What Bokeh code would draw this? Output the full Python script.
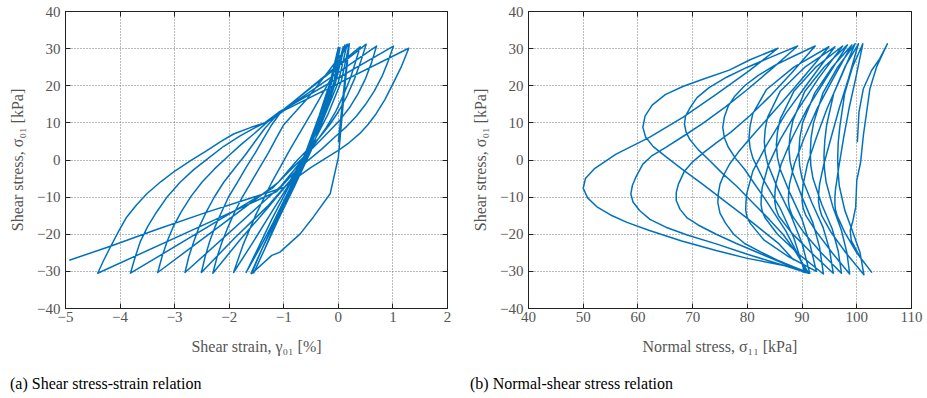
from bokeh.plotting import figure
from bokeh.models import Range1d, FixedTicker, CustomJSTickFormatter, LinearAxis, Div
from bokeh.layouts import row, column
from bokeh.embed import file_html
from bokeh.resources import INLINE

# ---------------- data (one time-ordered path per panel) ----------------
# (a) (shear strain [%], shear stress [kPa])
path_a = [
    (0.0, 4.8), (0.05, 12.0), (0.12, 22.0),
    (0.20, 31.3), (0.10, 17.0), (0.0, 0.7), (-0.15, -9.1), (-0.46, -15.4), (-0.70, -19.9), (-1.07, -24.8), (-1.22, -25.7),
    (-1.59, -30.6), (-1.40, -24), (-1.15, -16), (-0.85, -7), (-0.55, 2), (-0.30, 12), (-0.12, 21),
    (0.00, 30.3), (-0.15, 21), (-0.35, 12), (-0.60, 2), (-0.88, -8), (-1.15, -17), (-1.35, -24),
    (-1.55, -30.4), (-1.35, -24), (-1.10, -16), (-0.80, -7), (-0.50, 2.5), (-0.25, 12.5), (-0.08, 21),
    (0.03, 30.3), (-0.13, 21), (-0.33, 12), (-0.60, 2), (-0.90, -8), (-1.18, -17), (-1.40, -24),
    (-1.60, -30.5), (-1.40, -24), (-1.14, -16), (-0.84, -7.5), (-0.52, 2), (-0.25, 12), (-0.05, 21),
    (0.09, 30.5), (-0.08, 21), (-0.30, 12), (-0.58, 2), (-0.90, -8), (-1.20, -17), (-1.45, -24),
    (-1.69, -30.3), (-1.48, -24), (-1.22, -16), (-0.92, -7.5), (-0.58, 2), (-0.28, 12), (-0.05, 21),
    (0.12, 31.0), (-0.05, 21), (-0.28, 12), (-0.56, 3), (-0.88, -6), (-1.22, -14), (-1.58, -22.5),
    (-1.92, -30.3), (-1.75, -23), (-1.52, -15), (-1.22, -6), (-0.88, 3), (-0.50, 12.5), (-0.15, 21.5),
    (0.16, 31.2), (0.0, 21), (-0.25, 12), (-0.55, 3), (-0.88, -5.5), (-1.30, -13), (-1.80, -21.5),
    (-2.30, -30.5), (-2.22, -26), (-2.13, -22), (-2.02, -18), (-1.90, -14), (-1.76, -10), (-1.60, -6),
    (-1.44, -2), (-1.28, 2), (-1.14, 5.8), (-1.0, 9.5), (-0.6, 16), (-0.2, 23.5),
    (0.20, 31.3), (0.05, 21), (-0.20, 12), (-0.50, 3.5), (-0.85, -5), (-1.30, -12.5), (-1.90, -21),
    (-2.51, -30.3), (-2.44, -26), (-2.36, -22), (-2.26, -18), (-2.14, -14), (-2.01, -9.9), (-1.85, -6),
    (-1.69, -2), (-1.52, 2), (-1.37, 5.8), (-1.22, 9.5), (-1.05, 13),
    (0.40, 30.5), (0.31, 26.2), (0.22, 22), (0.09, 17.4), (-0.05, 13), (-0.22, 8.8), (-0.40, 5), (-0.80, -2.5), (-1.05, -7),
    (-2.81, -30.3), (-2.74, -26), (-2.65, -22), (-2.55, -18), (-2.42, -14), (-2.27, -9.9), (-2.10, -6),
    (-1.90, -2.2), (-1.70, 1.5), (-1.52, 5.1), (-1.35, 8.5), (-1.10, 12.5),
    (0.51, 31.2), (0.41, 26.5), (0.30, 22), (0.16, 17.3), (0.0, 13), (-0.17, 9.3), (-0.35, 6), (-0.75, 0), (-1.10, -6),
    (-3.31, -30.3), (-3.23, -26), (-3.14, -22), (-3.02, -17.8), (-2.88, -14), (-2.70, -9.8), (-2.50, -6),
    (-2.27, -2.4), (-2.02, 1), (-1.78, 4.2), (-1.55, 7), (-1.35, 9.6), (-1.15, 12),
    (0.70, 30.7), (0.61, 26.3), (0.50, 22), (0.36, 17.8), (0.20, 14), (0.03, 10.8), (-0.15, 8), (-0.35, 5),
    (-0.55, 2), (-0.90, -3), (-1.20, -7.5),
    (-3.81, -30.5), (-3.72, -26), (-3.63, -22), (-3.49, -17.8), (-3.33, -14), (-3.13, -9.8), (-2.90, -6),
    (-2.65, -2.6), (-2.38, 0.5), (-2.10, 3.7), (-1.80, 6.5), (-1.55, 8.5), (-1.35, 10), (-1.10, 12.8),
    (1.01, 30.7), (0.91, 26.5), (0.80, 22.5), (0.66, 18.6), (0.50, 15), (0.33, 11.8), (0.15, 9), (-0.08, 6),
    (-0.30, 3), (-0.52, 0.3), (-0.75, -2.5), (-1.13, -8.5),
    (-4.41, -30.5), (-4.30, -27), (-4.18, -23.5), (-4.03, -19.3), (-3.88, -15.4), (-3.70, -12.1), (-3.51, -9.1),
    (-3.25, -5.8), (-2.99, -2.9), (-2.70, -0.1), (-2.41, 2.5), (-2.15, 5), (-1.92, 7.0), (-1.60, 8.8),
    (-1.31, 10.2), (-1.15, 11.6), (-1.00, 13.3),
    (1.29, 30.1), (1.15, 25), (1.0, 20.5), (0.85, 16.2), (0.69, 12.4), (0.54, 9.5), (0.39, 7.1), (0.20, 4.7),
    (0.0, 2.6), (-0.25, 0.3), (-0.50, -2), (-0.75, -4.6), (-1.0, -7.4), (-2.42, -14.1), (-3.33, -18.7), (-4.19, -23.3),
    (-4.93, -27.0),
]

# (b) (normal stress [kPa], shear stress [kPa])
path_b = [
    (100.1, 4.8), (100.4, 12.9), (101.2, 19.2), (102.7, 24.1), (104.2, 27.3),
    (105.6, 31.3), (103.6, 25), (102.4, 19.2), (101.8, 12.9), (101.2, 6.6), (100.7, -0.6), (100.0, -5.5),
    (99.8, -12.7), (99.3, -16.3), (98.8, -19), (99.0, -21.7), (100.6, -26.2),
    (102.7, -30.2), (100, -25), (97.8, -19.5), (96.4, -15), (96.1, -13.3), (96, -12), (96, -10), (96.1, -8),
    (96.7, -2), (97.6, 6), (98.6, 14), (99.8, 22),
    (101.1, 31.3), (99.2, 25), (97.8, 18), (96.9, 9), (96.6, 4.5), (96.5, 0), (96.6, -3.5), (96.8, -7),
    (97.8, -13.5), (99.3, -19.5), (100.6, -25),
    (101.3, -30.9), (98, -25), (95.3, -19.5), (93.6, -15), (93.2, -13), (93, -11), (93.05, -8.8), (93.2, -6.5),
    (94, -1), (95.3, 6), (96.8, 14), (98.5, 22),
    (100.3, 31.3), (97.8, 25), (95.8, 18), (94.5, 9.5), (94.15, 5.2), (94, 1), (94.1, -2.5), (94.4, -6),
    (95.6, -12.5), (97.2, -19), (98.2, -25),
    (98.7, -30.7), (95.5, -25), (92.7, -19.5), (90.7, -15), (90.2, -13), (90, -11), (90.05, -8.8), (90.2, -6.5),
    (91, -1), (92.6, 6), (94.6, 14), (97, 22),
    (99.7, 31.3), (96.5, 25), (93.8, 18), (92.1, 10), (91.65, 6), (91.5, 2), (91.6, -1.5), (92, -5),
    (93.6, -12), (95.5, -18.5), (96.6, -24.5),
    (97.2, -30.5), (93.5, -25), (90.3, -19.5), (88.2, -15), (87.7, -13), (87.5, -11), (87.55, -8.8), (87.7, -6.5),
    (88.6, -1), (90.4, 6), (92.8, 14), (95.7, 22),
    (99.1, 31.0), (95.5, 25), (92.3, 18), (90.1, 10), (89.6, 6), (89.4, 2), (89.55, -1.5), (90, -5),
    (91.8, -11.5), (93.8, -18), (95, -24),
    (95.7, -30.5), (91.7, -25), (88, -19.5), (85.7, -15), (85.2, -13), (85, -11), (85.05, -8.8), (85.2, -6.5),
    (86.2, -1), (88.2, 6), (91, 14), (94.4, 22),
    (98.3, 31.0), (94, 25), (90.5, 18.5), (88.3, 10.5), (87.8, 6.7), (87.6, 3), (87.8, -0.3), (88.3, -3.5),
    (90, -10), (92, -17), (93.2, -23.5),
    (93.9, -30.7), (89.5, -25.5), (85.5, -20), (83.2, -15.5), (82.7, -13.7), (82.5, -12), (82.55, -9.8), (82.7, -7.5),
    (83.8, -1.5), (86, 5.5), (89.2, 13.5), (93, 22),
    (97.4, 30.7), (92.5, 25), (88.5, 18.5), (86, 11), (85.5, 7.5), (85.3, 4), (85.5, 0.7), (86, -2.5),
    (87.8, -9), (90, -16), (91.5, -23),
    (92.6, -30.0), (87.5, -26), (83, -21.5), (80.5, -17), (79.9, -15.2), (79.7, -13.5), (79.75, -11.2), (79.9, -9),
    (81, -3), (83.5, 4), (87, 12.5), (91.2, 21),
    (96.0, 30.5), (90.5, 25), (86, 18.5), (83.7, 11.5), (83.25, 8.2), (83.1, 5), (83.25, 2), (83.7, -1),
    (85.5, -7.5), (88, -15), (90, -22.5),
    (91.4, -30.5), (88.5, -28.8), (85.5, -27), (82.5, -24.8), (79.5, -22.5), (77.5, -20), (76, -17), (75, -14.3),
    (74.6, -11.5), (74.7, -9), (75, -6.5), (75.8, -3.7), (76.8, -1), (78.3, 2), (80, 5), (82.2, 8.7),
    (84.5, 12.5), (87, 16.7), (89.5, 21), (92.2, 25.7),
    (94.9, 30.5), (88.5, 25), (83.5, 19), (81, 12.5), (80.5, 9.2), (80.3, 6), (80.5, 3.2), (81, 0.5),
    (83, -5.5), (86, -13), (88.5, -21),
    (90.5, -30.3), (86, -27.5), (82, -25), (78, -22.5), (74.3, -20), (71, -17.5), (69, -15.6), (67.7, -13.3),
    (67.0, -10.9), (67.0, -8.8), (67.4, -6.5), (68.5, -3), (70, -0.5), (72, 2), (74.5, 4.8), (77, 7.5),
    (80.5, 12), (84, 17), (88, 23.3),
    (92.4, 30.7), (88.5, 28), (85, 25.5), (82, 22.8), (79.5, 20), (77.7, 17.2), (76.5, 14.5), (75.8, 11.6),
    (75.5, 8.8), (75.8, 6), (76.5, 3.5), (77.8, 0.5), (79.5, -2.5), (81.2, -6.2), (83, -10), (85, -14.5),
    (87, -19), (88.9, -24.5),
    (90.8, -30.3), (86.7, -28.4), (80, -25.4), (74.3, -22.6), (69, -20.2), (65.1, -18.1), (62.2, -16), (60.3, -13.6),
    (59.1, -11.3), (58.7, -9.1), (59.0, -6.8), (59.6, -4.7), (60.9, -1.1), (62.6, 1.2), (65.1, 3.4), (68.5, 6.6),
    (72, 10), (76, 14.3), (80, 19), (84.5, 24.6),
    (89.2, 30.7), (84.3, 27.7), (80, 25), (76.2, 22.3), (73, 19.5), (70.8, 16.8), (69.5, 14), (68.7, 11.8),
    (68.5, 9.7), (68.8, 7.5), (69.5, 5.5), (71, 2.8), (73, 0), (75.3, -3.4), (78, -7), (81, -11.5),
    (84, -16), (86.5, -20), (88.5, -24),
    (91.2, -30.5), (86.7, -28.4), (80, -26.5), (74.3, -24.4), (68, -21.8), (62.1, -19), (58, -16.8), (55, -14.8),
    (52.5, -12.6), (50.8, -10.2), (50.0, -7.6), (50.4, -5), (52, -2.4), (56, 1.6), (62.1, 6.1), (68.2, 11.5),
    (74.3, 17.7), (80.3, 24),
    (85.6, 30.1), (80.5, 27), (76.7, 24.2), (72, 21.8), (68.2, 19.8), (65, 17.6), (62.6, 14.8), (61.3, 11.8),
    (60.9, 8.8), (61.4, 6.2), (62.8, 3.6), (65.1, 0.9), (68, -2.4), (71.8, -6.5), (75.8, -11), (79.7, -15.4),
    (83, -19.3), (85.8, -22.6),
    (88.5, -27.0),
]

y_ticks = [-40, -30, -20, -10, 0, 10, 20, 30, 40]
x_ticks_a = [-5, -4, -3, -2, -1, 0, 1, 2]
x_ticks_b = [40, 50, 60, 70, 80, 90, 100, 110]

y_label = "Shear stress, σ₀₁ [kPa]"
x_label_a = "Shear strain, γ₀₁ [%]"
x_label_b = "Normal stress, σ₁₁ [kPa]"
caption_a = "(a) Shear stress-strain relation"
caption_b = "(b) Normal-shear stress relation"

# ---------------- styling ----------------
FONT = "Liberation Serif"
TXT = "#555555"
AX = "#222222"
BLUE = "#0072BD"

fmt_code = "return (tick < 0 ? '\u2212' : '') + Math.abs(tick).toString();"


def make_fig(xr, xticks, xlabel, pts, bl, br, fw):
    p = figure(frame_width=fw, frame_height=297,
               x_range=Range1d(*xr), y_range=Range1d(-40, 40),
               output_backend="svg", toolbar_location=None,
               min_border_left=bl, min_border_right=br,
               min_border_top=11, min_border_bottom=63)
    p.outline_line_color = AX
    p.outline_line_width = 1
    p.background_fill_color = "white"
    p.border_fill_color = "white"

    for ax, ticks in ((p.xaxis[0], xticks), (p.yaxis[0], y_ticks)):
        ax.ticker = FixedTicker(ticks=ticks)
        ax.formatter = CustomJSTickFormatter(code=fmt_code)
        ax.major_tick_in = 5
        ax.major_tick_out = 0
        ax.minor_tick_line_color = None
        ax.axis_line_color = AX
        ax.major_tick_line_color = AX
        ax.major_label_text_font = FONT
        ax.major_label_text_font_size = "15px"
        ax.major_label_text_color = TXT
        ax.axis_label_text_font = FONT
        ax.axis_label_text_font_size = "16px"
        ax.axis_label_text_font_style = "normal"
        ax.axis_label_text_color = TXT

    p.xaxis[0].axis_label = xlabel
    p.xaxis[0].major_label_standoff = 3
    p.xaxis[0].axis_label_standoff = 13
    p.yaxis[0].axis_label = y_label
    p.yaxis[0].major_label_standoff = 5
    p.yaxis[0].axis_label_standoff = 8

    # tick marks on the opposite sides (no labels)
    for loc, ticks in (("right", y_ticks), ("above", xticks)):
        ax = LinearAxis(ticker=FixedTicker(ticks=ticks),
                        major_label_text_font_size="1px",
                        major_label_text_color=None,
                        major_label_standoff=0,
                        major_tick_in=5, major_tick_out=0,
                        minor_tick_line_color=None,
                        axis_line_color=AX, major_tick_line_color=AX)
        p.add_layout(ax, loc)

    p.xgrid.ticker = FixedTicker(ticks=xticks)
    p.ygrid.ticker = FixedTicker(ticks=y_ticks)
    for g in (p.xgrid[0], p.ygrid[0]):
        g.grid_line_color = "#777777"
        g.grid_line_dash = "1 2"
        g.grid_line_width = 1

    xs = [q[0] for q in pts]
    ys = [q[1] for q in pts]
    p.line(xs, ys, line_color=BLUE, line_width=1.5, line_join="round")
    return p


p1 = make_fig((-5, 2), x_ticks_a, x_label_a, path_a, 65, 14, 382)
p2 = make_fig((40, 110), x_ticks_b, x_label_b, path_b, 67, 12, 383)


def caption(text, pad, w):
    return Div(text=text, width=w, height=26, margin=(0, 0, 0, 0),
               styles={"font-family": FONT, "font-size": "16px", "color": "#000000",
                       "padding-left": f"{pad}px", "padding-top": "2px",
                       "white-space": "nowrap"})


layout = row(column(p1, caption(caption_a, 10, 461)),
             column(p2, caption(caption_b, 9, 462)))

open("out.html", "w").write(file_html(layout, INLINE))
